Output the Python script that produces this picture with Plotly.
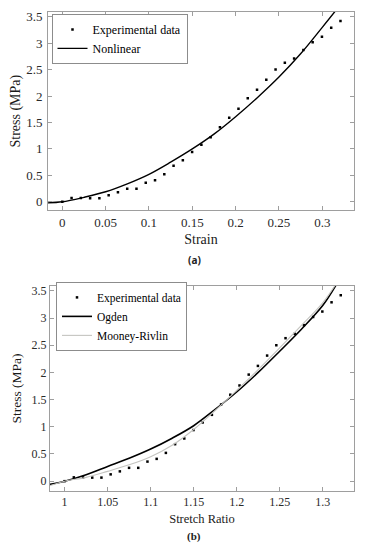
import plotly.graph_objects as go

# ---- data ----
strain = [0.0, 0.0107, 0.0214, 0.0321, 0.0428, 0.0535, 0.0642, 0.0749, 0.0856, 0.0963,
          0.1070, 0.1177, 0.1284, 0.1391, 0.1498, 0.1605, 0.1712, 0.1819, 0.1926, 0.2033,
          0.2140, 0.2247, 0.2354, 0.2461, 0.2568, 0.2675, 0.2782, 0.2889, 0.2996, 0.3103, 0.3210]
stress_exp = [0.0, 0.07, 0.07, 0.065, 0.065, 0.125, 0.18, 0.245, 0.245, 0.36,
              0.41, 0.52, 0.68, 0.785, 0.94, 1.08, 1.22, 1.41, 1.59, 1.76,
              1.96, 2.12, 2.31, 2.50, 2.63, 2.71, 2.87, 3.02, 3.12, 3.29, 3.42]
stretch = [1.0, 1.0107, 1.0214, 1.0321, 1.0428, 1.0535, 1.0642, 1.0749, 1.0856, 1.0963,
           1.1070, 1.1177, 1.1284, 1.1391, 1.1498, 1.1605, 1.1712, 1.1819, 1.1926, 1.2033,
           1.2140, 1.2247, 1.2354, 1.2461, 1.2568, 1.2675, 1.2782, 1.2889, 1.2996, 1.3103, 1.3210]

nl_strain = [-0.0165, 0.0, 0.025, 0.05, 0.075, 0.1, 0.125, 0.15, 0.175, 0.2, 0.225, 0.25, 0.275, 0.3, 0.3166]
nl_stress = [-0.02, 0.0, 0.085, 0.19, 0.34, 0.52, 0.75, 1.0, 1.28, 1.61, 1.97, 2.36, 2.80, 3.30, 3.64]

fit_stretch = [0.983, 1.0, 1.025, 1.05, 1.075, 1.1, 1.125, 1.15, 1.175, 1.2, 1.225, 1.25, 1.275, 1.3, 1.316]
ogden_stress = [-0.06, 0.0, 0.12, 0.27, 0.42, 0.59, 0.79, 1.02, 1.32, 1.64, 2.0, 2.39, 2.79, 3.23, 3.62]
mooney_stress = [-0.08, 0.0, 0.07, 0.18, 0.30, 0.45, 0.66, 0.95, 1.30, 1.67, 2.05, 2.45, 2.86, 3.28, 3.64]

x_ticks_a = [0, 0.05, 0.1, 0.15, 0.2, 0.25, 0.3]
x_ticklabels_a = ["0", "0.05", "0.1", "0.15", "0.2", "0.25", "0.3"]
x_ticks_b = [1, 1.05, 1.1, 1.15, 1.2, 1.25, 1.3]
x_ticklabels_b = ["1", "1.05", "1.1", "1.15", "1.2", "1.25", "1.3"]
y_ticks = [0, 0.5, 1, 1.5, 2, 2.5, 3, 3.5]
y_ticklabels = ["0", "0.5", "1", "1.5", "2", "2.5", "3", "3.5"]

W, H = 366, 550
OFF = 8  # page body margin of the saved html
FONT = "'Liberation Serif', 'Times New Roman', Times, serif"
AXC = "#9e9e9e"


def px(x):
    return (x - OFF) / W


def py(y):
    return 1 - (y - OFF) / H


fig = go.Figure()

fig.add_trace(go.Scatter(x=strain, y=stress_exp, mode="markers", name="Experimental data",
                         marker=dict(color="black", size=2.5, symbol="square"),
                         xaxis="x", yaxis="y", legend="legend"))
fig.add_trace(go.Scatter(x=nl_strain, y=nl_stress, mode="lines", name="Nonlinear",
                         line=dict(color="black", width=1.4, shape="spline"),
                         xaxis="x", yaxis="y", legend="legend"))

fig.add_trace(go.Scatter(x=stretch, y=stress_exp, mode="markers", name="Experimental data",
                         marker=dict(color="black", size=2.5, symbol="square"),
                         xaxis="x2", yaxis="y2", legend="legend2"))
fig.add_trace(go.Scatter(x=fit_stretch, y=ogden_stress, mode="lines", name="Ogden",
                         line=dict(color="black", width=1.6, shape="spline"),
                         xaxis="x2", yaxis="y2", legend="legend2"))
fig.add_trace(go.Scatter(x=fit_stretch, y=mooney_stress, mode="lines", name="Mooney-Rivlin",
                         line=dict(color="#c4c4c0", width=1.1, shape="spline"),
                         xaxis="x2", yaxis="y2", legend="legend2"))


def ax(**kw):
    d = dict(showline=True, linecolor=AXC, linewidth=1, mirror="ticks",
             ticks="inside", ticklen=4, tickcolor=AXC, tickwidth=1,
             showgrid=False, zeroline=False, fixedrange=True)
    d.update(kw)
    return d


fig.update_layout(
    width=W, height=H,
    margin=dict(l=0, r=0, t=0, b=0),
    paper_bgcolor="white", plot_bgcolor="white",
    font=dict(family=FONT, color="#1a1a1a"),
    xaxis=ax(domain=[px(48), px(354)], range=[-0.0165, 0.3366], anchor="y",
             tickvals=x_ticks_a, ticktext=x_ticklabels_a,
             tickfont=dict(family=FONT, size=13, color="#2a2a2a"),
             title=dict(text="Strain", font=dict(family=FONT, size=14), standoff=5)),
    yaxis=ax(domain=[py(209), py(10)], range=[-0.16, 3.59], anchor="x",
             tickvals=y_ticks, ticktext=y_ticklabels, ticklabelstandoff=2,
             tickfont=dict(family=FONT, size=13, color="#2a2a2a"),
             title=dict(text="Stress (MPa)", font=dict(family=FONT, size=14), standoff=4)),
    xaxis2=ax(domain=[px(50), px(354)], range=[0.983, 1.3364], anchor="y2",
              tickvals=x_ticks_b, ticktext=x_ticklabels_b,
              tickfont=dict(family=FONT, size=12, color="#2a2a2a"),
              title=dict(text="Stretch Ratio", font=dict(family=FONT, size=12.5), standoff=5)),
    yaxis2=ax(domain=[py(490.7), py(285)], range=[-0.18, 3.59], anchor="x2",
              tickvals=y_ticks, ticktext=y_ticklabels,
              tickfont=dict(family=FONT, size=12, color="#2a2a2a"),
              title=dict(text="Stress (MPa)", font=dict(family=FONT, size=13.5), standoff=6)),
    legend=dict(x=px(119.5), y=py(37), xanchor="center", yanchor="middle",
                bgcolor="white", bordercolor="#8c8c8c", borderwidth=1,
                font=dict(family=FONT, size=12, color="black"), itemwidth=30,
                tracegroupgap=0),
    legend2=dict(x=px(121.5), y=py(315.5), xanchor="center", yanchor="middle",
                 bgcolor="white", bordercolor="#8c8c8c", borderwidth=1,
                 font=dict(family=FONT, size=11.5, color="black"), itemwidth=30,
                 tracegroupgap=0),
    annotations=[
        dict(text="<b>(a)</b>", x=px(194), y=py(259), xref="paper", yref="paper",
             xanchor="center", yanchor="middle", showarrow=False,
             font=dict(family="Noto Sans", size=10, color="#222")),
        dict(text="<b>(b)</b>", x=px(194), y=py(536), xref="paper", yref="paper",
             xanchor="center", yanchor="middle", showarrow=False,
             font=dict(family=FONT, size=11, color="#222")),
    ],
)

fig.write_html("out.html")
